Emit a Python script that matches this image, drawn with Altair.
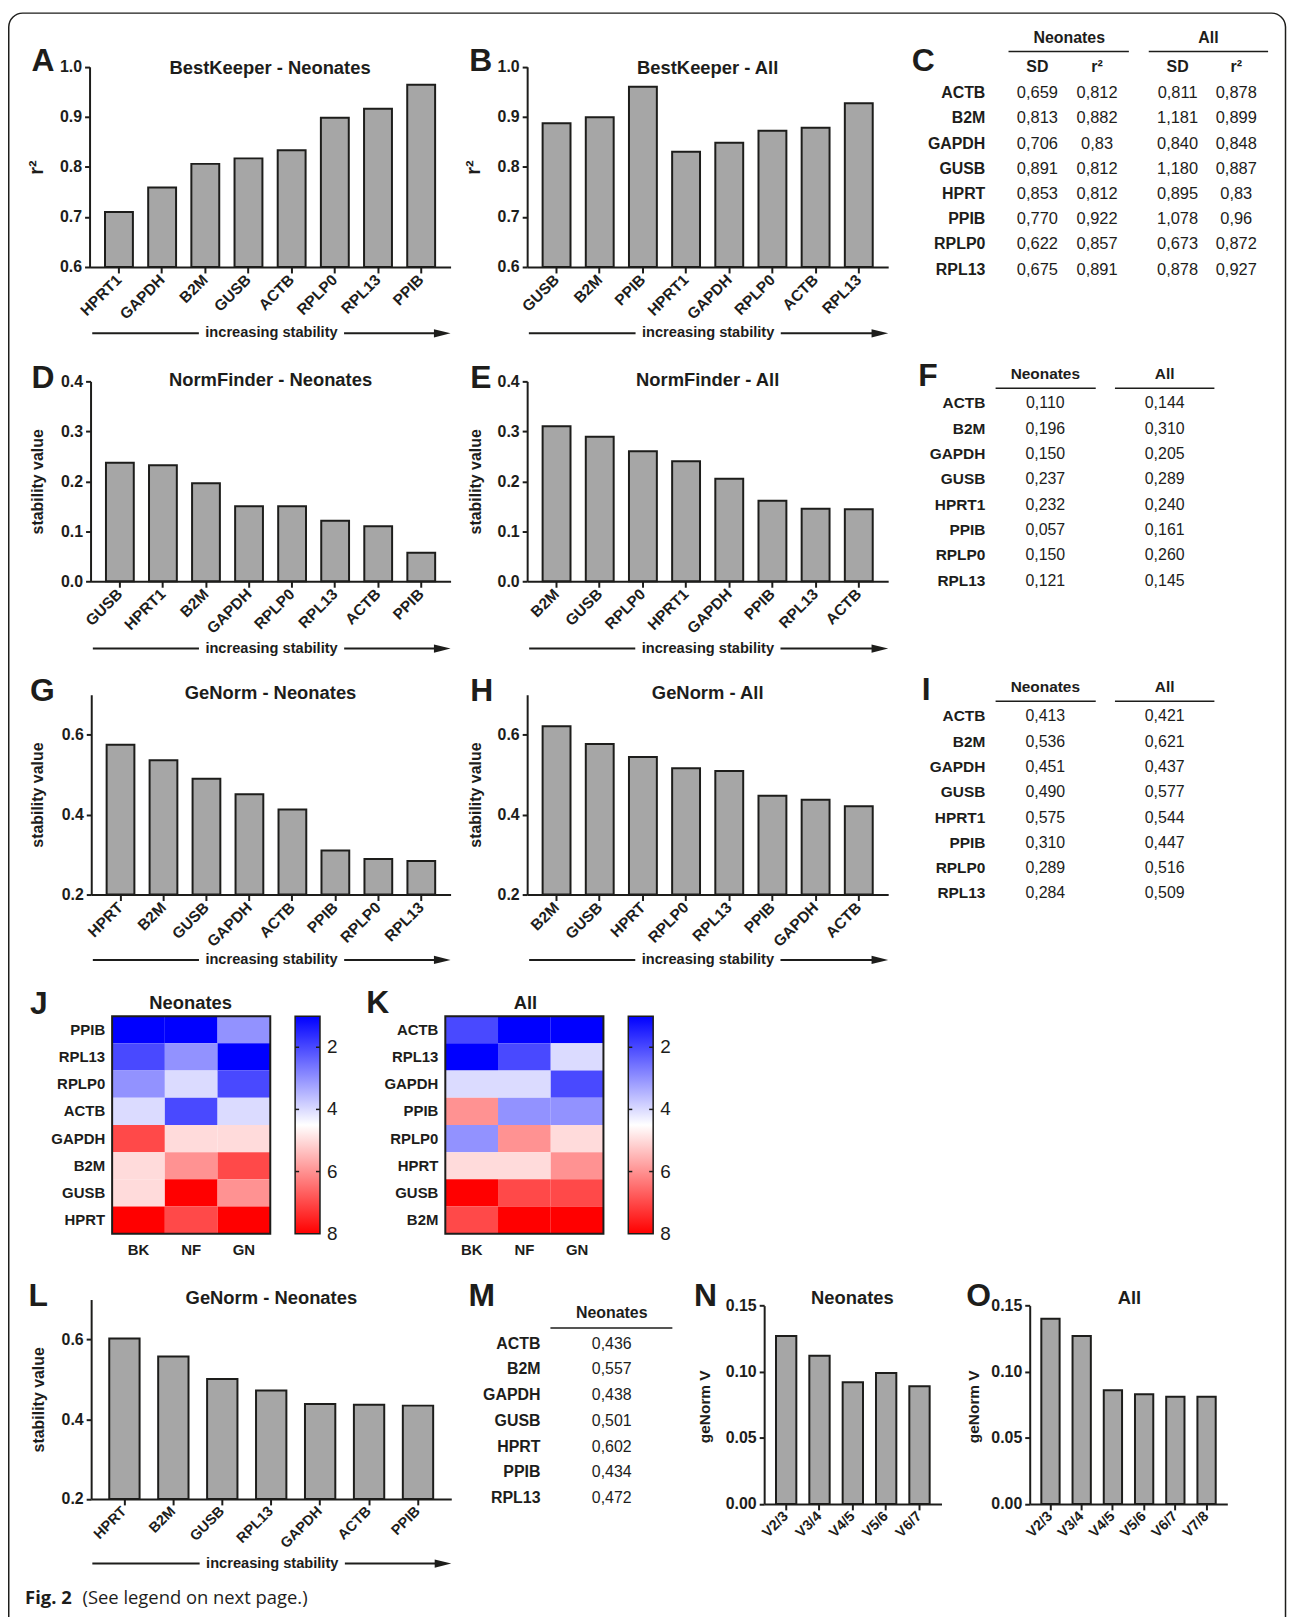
import altair as alt
import pandas as pd

W, H = 1286, 1609


def X(v):
    return round(v - 8, 2)


def Y(v):
    return round(v - 8, 2)


FONT = "Liberation Sans"
CAPFONT = "Open Sans"
INK = "#1d1d1b"
BAR = "#a6a6a6"
HEAD = "M-1,-0.5L1,0L-1,0.5Z"

# ---------------- data ----------------
A_genes = ["HPRT1", "GAPDH", "B2M", "GUSB", "ACTB", "RPLP0", "RPL13", "PPIB"]
A_vals = [0.710, 0.759, 0.806, 0.817, 0.833, 0.898, 0.916, 0.964]

B_genes = ["GUSB", "B2M", "PPIB", "HPRT1", "GAPDH", "RPLP0", "ACTB", "RPL13"]
B_vals = [0.887, 0.899, 0.960, 0.830, 0.848, 0.872, 0.878, 0.927]

C_genes = ["ACTB", "B2M", "GAPDH", "GUSB", "HPRT", "PPIB", "RPLP0", "RPL13"]
C_neo_sd = ["0,659", "0,813", "0,706", "0,891", "0,853", "0,770", "0,622", "0,675"]
C_neo_r2 = ["0,812", "0,882", "0,83", "0,812", "0,812", "0,922", "0,857", "0,891"]
C_all_sd = ["0,811", "1,181", "0,840", "1,180", "0,895", "1,078", "0,673", "0,878"]
C_all_r2 = ["0,878", "0,899", "0,848", "0,887", "0,83", "0,96", "0,872", "0,927"]

D_genes = ["GUSB", "HPRT1", "B2M", "GAPDH", "RPLP0", "RPL13", "ACTB", "PPIB"]
D_vals = [0.237, 0.232, 0.196, 0.150, 0.150, 0.121, 0.110, 0.057]

E_genes = ["B2M", "GUSB", "RPLP0", "HPRT1", "GAPDH", "PPIB", "RPL13", "ACTB"]
E_vals = [0.310, 0.289, 0.260, 0.240, 0.205, 0.161, 0.145, 0.144]

F_genes = ["ACTB", "B2M", "GAPDH", "GUSB", "HPRT1", "PPIB", "RPLP0", "RPL13"]
F_neo = ["0,110", "0,196", "0,150", "0,237", "0,232", "0,057", "0,150", "0,121"]
F_all = ["0,144", "0,310", "0,205", "0,289", "0,240", "0,161", "0,260", "0,145"]

G_genes = ["HPRT", "B2M", "GUSB", "GAPDH", "ACTB", "PPIB", "RPLP0", "RPL13"]
G_vals = [0.575, 0.536, 0.490, 0.451, 0.413, 0.310, 0.289, 0.284]

H_genes = ["B2M", "GUSB", "HPRT", "RPLP0", "RPL13", "PPIB", "GAPDH", "ACTB"]
H_vals = [0.621, 0.577, 0.544, 0.516, 0.509, 0.447, 0.437, 0.421]

I_genes = ["ACTB", "B2M", "GAPDH", "GUSB", "HPRT1", "PPIB", "RPLP0", "RPL13"]
I_neo = ["0,413", "0,536", "0,451", "0,490", "0,575", "0,310", "0,289", "0,284"]
I_all = ["0,421", "0,621", "0,437", "0,577", "0,544", "0,447", "0,516", "0,509"]

METHODS = ["BK", "NF", "GN"]
J_rows = ["PPIB", "RPL13", "RPLP0", "ACTB", "GAPDH", "B2M", "GUSB", "HPRT"]
J_BK = [1, 2, 3, 4, 7, 5, 5, 8]
J_NF = [1, 3, 4, 2, 5, 6, 8, 7]
J_GN = [3, 1, 2, 4, 5, 7, 6, 8]

K_rows = ["ACTB", "RPL13", "GAPDH", "PPIB", "RPLP0", "HPRT", "GUSB", "B2M"]
K_BK = [2, 1, 4, 6, 3, 5, 8, 7]
K_NF = [1, 2, 4, 3, 6, 5, 7, 8]
K_GN = [1, 4, 2, 3, 5, 6, 7, 8]

L_genes = ["HPRT", "B2M", "GUSB", "RPL13", "GAPDH", "ACTB", "PPIB"]
L_vals = [0.602, 0.557, 0.501, 0.472, 0.438, 0.436, 0.434]

M_genes = ["ACTB", "B2M", "GAPDH", "GUSB", "HPRT", "PPIB", "RPL13"]
M_vals = ["0,436", "0,557", "0,438", "0,501", "0,602", "0,434", "0,472"]

N_labels = ["V2/3", "V3/4", "V4/5", "V5/6", "V6/7"]
N_vals = [0.127, 0.112, 0.092, 0.099, 0.089]

O_labels = ["V2/3", "V3/4", "V4/5", "V5/6", "V6/7", "V7/8"]
O_vals = [0.140, 0.127, 0.086, 0.083, 0.081, 0.081]

CB_ticks = [2, 4, 6]
CB_labels = [2, 4, 6, 8]


# ---------------- helpers ----------------
def T(s, x, y, size, weight="bold", align="center", baseline="middle", angle=0, font=FONT):
    kw = dict(align=align, baseline=baseline, fontSize=size, fontWeight=weight, font=font, color=INK)
    if angle:
        kw["angle"] = angle
    return alt.Chart(pd.DataFrame({"t": [s]})).mark_text(**kw).encode(
        text="t:N", x=alt.value(X(x)), y=alt.value(Y(y)))


def hrule(x1, x2, y, w=2.0):
    return alt.Chart(pd.DataFrame({"t": [0]})).mark_rule(color=INK, strokeWidth=w).encode(
        x=alt.value(X(x1)), x2=alt.value(X(x2)), y=alt.value(Y(y)))


def arrow(x1, xc, x2, y):
    half = 66
    head = alt.Chart(pd.DataFrame({"t": [0]})).mark_point(
        shape=HEAD, filled=True, size=279, color=INK, opacity=1, strokeWidth=0
    ).encode(x=alt.value(X(x2 - 8.35)), y=alt.value(Y(y)))
    return [hrule(x1, xc - half - 7, y), T("increasing stability", xc, y, 14.7),
            hrule(xc + half + 7, x2 - 12, y), head]


def axis_common():
    return dict(domainColor=INK, domainWidth=2, tickColor=INK, tickWidth=2, labelColor=INK,
                labelFont=FONT, labelFontWeight="bold", title=None, grid=False)


def bar_panel(cats, vals, x0, x1, yb, yt, dom, ticks, fmt, pin, pout, xlab=15.5, ylab=16):
    df = pd.DataFrame({"g": cats, "v": vals})
    xs = alt.Scale(domain=cats, range=[X(x0), X(x1)], paddingInner=pin, paddingOuter=pout)
    ys = alt.Scale(domain=dom, range=[Y(yb), Y(yt)], zero=False, nice=False)
    return alt.Chart(df).mark_bar(fill=BAR, stroke=INK, strokeWidth=2).encode(
        x=alt.X("g:N", scale=xs, axis=alt.Axis(
            orient="bottom", offset=Y(yb) - H, labelAngle=-45, labelAlign="right",
            labelBaseline="middle", labelFontSize=xlab, tickSize=6, labelPadding=4, **axis_common())),
        y=alt.Y("v:Q", scale=ys, axis=alt.Axis(
            orient="left", offset=-X(x0), values=ticks, format=fmt, labelFontSize=ylab,
            tickSize=5, labelPadding=3, **axis_common())),
        y2=alt.datum(dom[0]),
    )


def heatmap(rows, bk, nf, gn, x0, x1, y0, y1):
    df = pd.DataFrame({
        "gene": rows * 3,
        "method": ["BK"] * len(rows) + ["NF"] * len(rows) + ["GN"] * len(rows),
        "rank": bk + nf + gn,
    })
    xs = alt.Scale(domain=METHODS, range=[X(x0), X(x1)], paddingInner=0, paddingOuter=0)
    ys = alt.Scale(domain=rows, range=[Y(y0), Y(y1)], paddingInner=0, paddingOuter=0)
    cells = alt.Chart(df).mark_rect().encode(
        x=alt.X("method:N", scale=xs, axis=alt.Axis(
            orient="bottom", offset=Y(y1) - H, domain=False, ticks=False, labelAngle=0,
            labelFontSize=15, labelPadding=9, labelFont=FONT, labelFontWeight="bold",
            labelColor=INK, title=None, grid=False)),
        y=alt.Y("gene:N", scale=ys, axis=alt.Axis(
            orient="left", offset=-X(x0), domain=False, ticks=False, labelFontSize=15,
            labelPadding=7.5, labelFont=FONT, labelFontWeight="bold", labelColor=INK,
            title=None, grid=False)),
        color=alt.Color("rank:Q", scale=alt.Scale(
            domain=[1, 4.5, 8], range=["#0000ff", "#ffffff", "#ff0000"], interpolate="rgb"),
            legend=None),
    )
    border = alt.Chart(pd.DataFrame({"t": [0]})).mark_rect(
        fill="transparent", stroke=INK, strokeWidth=2
    ).encode(x=alt.value(X(x0)), x2=alt.value(X(x1)), y=alt.value(Y(y0)), y2=alt.value(Y(y1)))
    return [cells, border]


def colorbar(x0, x1, y0, y1):
    sc = alt.Scale(domain=[1, 8], range=[Y(y0), Y(y1)], zero=False, nice=False)
    grad = alt.Gradient(
        gradient="linear",
        stops=[alt.GradientStop(color="#0000ff", offset=0),
               alt.GradientStop(color="#ffffff", offset=0.5),
               alt.GradientStop(color="#ff0000", offset=1)],
        x1=0, x2=0, y1=0, y2=1)
    bar = alt.Chart(pd.DataFrame({"lo": [1], "hi": [8]})).mark_rect(
        fill=grad, stroke=INK, strokeWidth=1.5
    ).encode(
        x=alt.value(X(x0)), x2=alt.value(X(x1)),
        y=alt.Y("lo:Q", scale=sc, axis=None),
        y2="hi:Q",
    )
    tdf = pd.DataFrame({"v": CB_ticks})
    tl = alt.Chart(tdf).mark_rule(color=INK, strokeWidth=1.5).encode(
        x=alt.value(X(x0)), x2=alt.value(X(x0 + 4)), y=alt.Y("v:Q", scale=sc, axis=None))
    tr = alt.Chart(tdf).mark_rule(color=INK, strokeWidth=1.5).encode(
        x=alt.value(X(x1 - 4)), x2=alt.value(X(x1)), y=alt.Y("v:Q", scale=sc, axis=None))
    labs = alt.Chart(pd.DataFrame({"v": CB_labels})).mark_text(
        align="left", baseline="middle", fontSize=19, fontWeight="normal", font=FONT, color=INK
    ).encode(x=alt.value(X(x1 + 7)), y=alt.Y("v:Q", scale=sc, axis=None), text="v:N")
    return alt.layer(bar, tl, tr, labs)


def rowscale(genes, y0, y1):
    return alt.Scale(type="point", domain=genes, range=[Y(y0), Y(y1)], padding=0)


def table_rows(genes, y0, y1, xr, size=16):
    return alt.Chart(pd.DataFrame({"g": genes})).mark_text(
        align="right", baseline="middle", fontSize=size, fontWeight="bold", font=FONT, color=INK
    ).encode(y=alt.Y("g:N", scale=rowscale(genes, y0, y1), axis=None), x=alt.value(X(xr)), text="g:N")


def table_col(genes, vals, y0, y1, xc, size=16):
    return alt.Chart(pd.DataFrame({"g": genes, "s": vals})).mark_text(
        align="center", baseline="middle", fontSize=size, fontWeight="normal", font=FONT, color=INK
    ).encode(y=alt.Y("g:N", scale=rowscale(genes, y0, y1), axis=None), x=alt.value(X(xc)), text="s:N")


# ---------------- assemble ----------------
layers = []

frame = alt.Chart(pd.DataFrame({"t": [0]})).mark_rect(
    fill="transparent", stroke=INK, strokeWidth=1.5, cornerRadius=14
).encode(x=alt.value(0.75), x2=alt.value(X(1292.5)), y=alt.value(0.75), y2=alt.value(H + 40))
layers.append(frame)

TP, TO = 0.354, 0.358  # top-row bar paddings
LETTER = 32
TITLE = 18.5

# A
layers.append(bar_panel(A_genes, A_vals, 90, 453, 264, 62.7, [0.6, 1.0], [0.6, 0.7, 0.8, 0.9, 1.0], ".1f", TP, TO))
layers += [T("A", 31.7, 56.5, LETTER, align="left"), T("BestKeeper - Neonates", 271.5, 64, TITLE),
           T("r\u00b2", 36.7, 164, 20, angle=270)]
layers += arrow(92.7, 272.9, 453, 330.7)
# B
layers.append(bar_panel(B_genes, B_vals, 530, 893, 264, 62.7, [0.6, 1.0], [0.6, 0.7, 0.8, 0.9, 1.0], ".1f", TP, TO))
layers += [T("B", 471.7, 56.7, LETTER, align="left"), T("BestKeeper - All", 711.5, 64, TITLE),
           T("r\u00b2", 476.7, 164, 20, angle=270)]
layers += arrow(531.7, 712, 893, 330.7)
# D
layers.append(bar_panel(D_genes, D_vals, 91, 453, 580, 379, [0, 0.4], [0, 0.1, 0.2, 0.3, 0.4], ".1f", TP, TO))
layers += [T("D", 31.7, 376, LETTER, align="left"), T("NormFinder - Neonates", 272, 377.7, TITLE),
           T("stability value", 38.3, 480, 16, angle=270)]
layers += arrow(93.3, 273, 453, 647.7)
# E
layers.append(bar_panel(E_genes, E_vals, 530, 893, 580, 379, [0, 0.4], [0, 0.1, 0.2, 0.3, 0.4], ".1f", TP, TO))
layers += [T("E", 472.7, 376, LETTER, align="left"), T("NormFinder - All", 711.5, 377.7, TITLE),
           T("stability value", 478.3, 480, 16, angle=270)]
layers += arrow(532, 711.7, 893, 647.7)
# G
layers.append(bar_panel(G_genes, G_vals, 91.7, 453, 895, 694.1, [0.2, 0.7], [0.2, 0.4, 0.6], ".1f", TP, TO))
layers += [T("G", 30, 690, LETTER, align="left"), T("GeNorm - Neonates", 272, 692.7, TITLE),
           T("stability value", 38.3, 795, 16, angle=270)]
layers += arrow(93.3, 273, 453, 960.7)
# H
layers.append(bar_panel(H_genes, H_vals, 530, 893, 895, 694.1, [0.2, 0.7], [0.2, 0.4, 0.6], ".1f", TP, TO))
layers += [T("H", 472.7, 690, LETTER, align="left"), T("GeNorm - All", 711.5, 692.7, TITLE),
           T("stability value", 478.3, 795, 16, angle=270)]
layers += arrow(532, 711.7, 893, 960.7)

# C table
layers += [T("C", 916.7, 56.7, LETTER, align="left"),
           T("Neonates", 1075, 33.3, 16), T("All", 1215, 33.3, 16),
           hrule(1014, 1135, 47.3, 1.5), hrule(1155, 1275, 47.3, 1.5),
           T("SD", 1043, 62.7, 16), T("r\u00b2", 1103, 62.7, 16),
           T("SD", 1184, 62.7, 16), T("r\u00b2", 1243, 62.7, 16),
           table_rows(C_genes, 89.3, 266.75, 990.7),
           table_col(C_genes, C_neo_sd, 89.3, 266.75, 1043, 16.5),
           table_col(C_genes, C_neo_r2, 89.3, 266.75, 1103, 16.5),
           table_col(C_genes, C_all_sd, 89.3, 266.75, 1184, 16.5),
           table_col(C_genes, C_all_r2, 89.3, 266.75, 1243, 16.5)]
# F table
layers += [T("F", 923.3, 374, LETTER, align="left"),
           T("Neonates", 1051, 372, 15.5), T("All", 1171, 372, 15.5),
           hrule(1001, 1101.7, 386, 1.5), hrule(1121, 1221, 386, 1.5),
           table_rows(F_genes, 401, 579.4, 990.7, 15.5),
           table_col(F_genes, F_neo, 401, 579.4, 1051),
           table_col(F_genes, F_all, 401, 579.4, 1171)]
# I table
layers += [T("I", 926.7, 689.3, LETTER, align="left"),
           T("Neonates", 1051, 686.7, 15.5), T("All", 1171, 686.7, 15.5),
           hrule(1001, 1101.7, 700.7, 1.5), hrule(1121, 1221, 700.7, 1.5),
           table_rows(I_genes, 716, 893.8, 990.7, 15.5),
           table_col(I_genes, I_neo, 716, 893.8, 1051),
           table_col(I_genes, I_all, 716, 893.8, 1171)]

# J / K heatmaps
layers += heatmap(J_rows, J_BK, J_NF, J_GN, 112.7, 271.7, 1017.3, 1236)
layers.append(colorbar(296.7, 321.7, 1017.3, 1236))
layers += [T("J", 30, 1005, LETTER, align="left"), T("Neonates", 191.7, 1004, TITLE)]
layers += heatmap(K_rows, K_BK, K_NF, K_GN, 447.7, 606.7, 1017.3, 1236)
layers.append(colorbar(631.7, 656.7, 1017.3, 1236))
layers += [T("K", 368.3, 1004, LETTER, align="left"), T("All", 528.3, 1004, TITLE)]

# L
layers.append(bar_panel(L_genes, L_vals, 91.6, 453.7, 1502.7, 1302.2, [0.2, 0.7], [0.2, 0.4, 0.6], ".1f", 0.38, 0.37, 14.5))
layers += [T("L", 28.7, 1299, LETTER, align="left"), T("GeNorm - Neonates", 272.8, 1300.7, TITLE),
           T("stability value", 39.5, 1403, 16, angle=270)]
layers += arrow(92.8, 273.7, 453.7, 1567.7)

# M table
layers += [T("M", 471, 1299, LETTER, align="left"),
           T("Neonates", 615, 1316, 16), hrule(553.4, 676, 1330.7, 1.5),
           table_rows(M_genes, 1346.7, 1501.7, 543.4),
           table_col(M_genes, M_vals, 1346.7, 1501.7, 615)]

# N / O
layers.append(bar_panel(N_labels, N_vals, 768.3, 946.6, 1507.7, 1308.3, [0, 0.15], [0, 0.05, 0.10, 0.15], ".2f", 0.39, 0.355, 14.5))
layers += [T("N", 697.7, 1298.3, LETTER, align="left"), T("Neonates", 857, 1300.7, TITLE),
           T("geNorm V", 709.3, 1410, 15.5, angle=270)]
layers.append(bar_panel(O_labels, O_vals, 1035.3, 1234, 1507.7, 1308.3, [0, 0.15], [0, 0.05, 0.10, 0.15], ".2f", 0.414, 0.372, 14.5))
layers += [T("O", 971.6, 1298.3, LETTER, align="left"), T("All", 1135.6, 1300.7, TITLE),
           T("geNorm V", 979.4, 1410, 15.5, angle=270)]

# caption
layers += [T("Fig. 2", 25.2, 1608.5, 18.5, weight="bold", align="left", baseline="alphabetic", font=CAPFONT),
           T("(See legend on next page.)", 82.9, 1608.5, 18.5, weight="normal", align="left",
             baseline="alphabetic", font=CAPFONT)]

chart = alt.layer(*layers).resolve_scale(
    x="independent", y="independent", color="independent"
).properties(
    width=W, height=H, padding=0, autosize=alt.AutoSizeParams(type="none")
).configure_view(stroke=None)

chart.save("out.html", embed_options={"renderer": "svg", "actions": False})
